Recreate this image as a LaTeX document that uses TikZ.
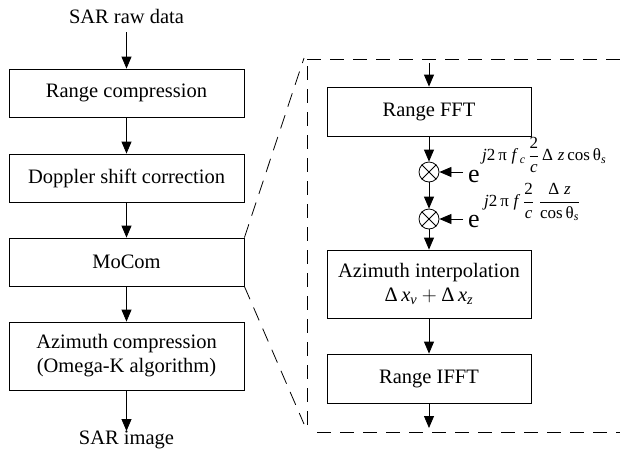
\documentclass[tikz,border=0pt]{standalone}
\usepackage{amsmath}
\usepackage{fontspec}
\setmainfont{Liberation Serif}
\usetikzlibrary{arrows.meta}
\newcommand{\gk}[1]{\mbox{#1}}
\begin{document}
\begin{tikzpicture}[x=1pt,y=-1pt,
  box/.style={draw, line width=0.8pt, minimum width=235pt, minimum height=48pt, inner sep=0pt, align=center, font=\fontsize{20.5}{24}\selectfont},
  rbox/.style={box, minimum width=204pt},
  lbl/.style={inner sep=0pt, font=\fontsize{20.5}{24}\selectfont},
  ebase/.style={inner sep=0pt, font=\fontsize{26}{28}\selectfont},
  expo/.style={inner sep=0pt, anchor=west, font=\fontsize{17}{19}\selectfont},
  arr/.style={-{Triangle[length=12pt,width=10pt]}, line width=0.8pt},
  dsh/.style={dash pattern=on 14pt off 9pt, line width=0.8pt},
  mul/.style={draw, circle, minimum size=20pt, inner sep=0pt, line width=0.8pt}]
\useasboundingbox (0,0) rectangle (620,453);
% left column
\node[lbl] (raw) at (126.5,16) {SAR raw data};
\node[box] (rc) at (126.5,93) {Range compression};
\node[box] (dsc) at (126.5,178) {Doppler shift correction};
\node[box] (moc) at (126.5,262) {MoCom};
\node[box, minimum height=68pt] (azc) at (126.5,356) {Azimuth compression\\(Omega-K algorithm)};
\node[lbl, anchor=north] (img) at (126.5,431) {SAR image};
\draw[arr] ([yshift=-9pt]raw.south) -- (rc);
\draw[arr] (rc) -- (dsc);
\draw[arr] (dsc) -- (moc);
\draw[arr] (moc) -- (azc);
\draw[arr] (azc) -- (img);
% right column
\node[rbox, minimum height=49pt] (fft) at (429,111.5) {Range FFT};
\node[mul] (m1) at (429,172) {};
\node[mul] (m2) at (429,219) {};
\draw[line width=0.8pt] (m1.north east) -- (m1.south west) (m1.north west) -- (m1.south east);
\draw[line width=0.8pt] (m2.north east) -- (m2.south west) (m2.north west) -- (m2.south east);
\node[rbox, minimum height=68pt] (azi) at (429,284) {Azimuth interpolation\\$\gk{Δ}\,\mathit{x}_{\mathit{v}}+\gk{Δ}\,\mathit{x}_{\mathit{z}}$};
\node[rbox, minimum height=49pt] (ifft) at (429,378.5) {Range IFFT};
\coordinate (tin) at (429,63);
\coordinate (tout) at (429,428);
\coordinate (s1) at (463,172);
\coordinate (s2) at (463,219);
\draw[arr] (tin) -- (fft);
\draw[arr] (fft) -- (m1);
\draw[arr] (m1) -- (m2);
\draw[arr] (m2) -- (azi);
\draw[arr] (azi) -- (ifft);
\draw[arr] (ifft) -- (tout);
\draw[arr] (s1) -- (m1);
\draw[arr] (s2) -- (m2);
\node[ebase] (e1) at (474,176) {e};
\node[ebase] (e2) at (474,221) {e};
\node[expo] (x1) at (482,155) {$\mathit{j}\mathrm{2}\,\gk{π}\;\mathit{f}_{\;\mathit{c}}\,\dfrac{\mathrm{2}}{\mathit{c}}\,\gk{Δ}\;\mathit{z}\,\mathrm{cos}\,\gk{θ}_{\mathit{s}}$};
\node[expo] (x2) at (484,202) {$\mathit{j}\mathrm{2}\,\gk{π}\;\mathit{f}\;\dfrac{\mathrm{2}}{\mathit{c}}\;\dfrac{\gk{Δ}\;\mathit{z}}{\mathrm{cos}\,\gk{θ}_{\mathit{s}}}$};
% dashed frame
\coordinate (ftl) at (307,59);
\coordinate (ftr) at (620,59);
\coordinate (fla) at (307,66);
\coordinate (flb) at (307,425);
\coordinate (fbl) at (317,432);
\coordinate (fbr) at (620,432);
\coordinate (du) at (304,58);
\coordinate (dd) at (304,424);
\draw[dsh] (ftl) -- (ftr);
\draw[dsh] (fla) -- (flb);
\draw[dsh] (fbl) -- (fbr);
\draw[dsh] (moc.north east) -- (du);
\draw[dsh] (moc.south east) -- (dd);
\end{tikzpicture}
\end{document}
